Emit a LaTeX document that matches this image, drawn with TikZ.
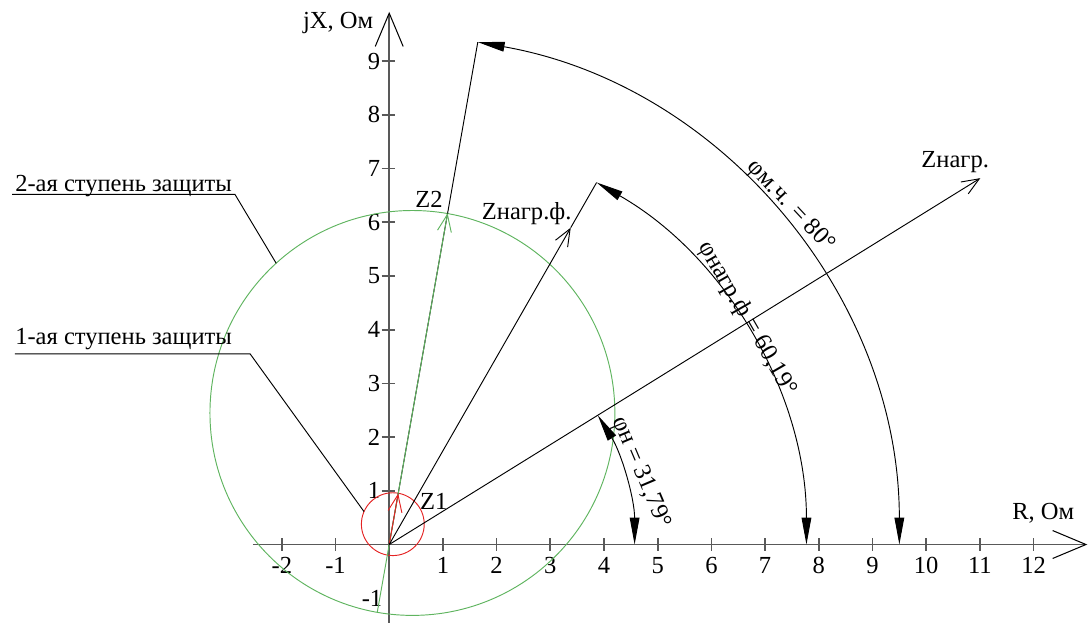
\documentclass[tikz,border=0pt]{standalone}
\usepackage{fontspec}
\setmainfont{Liberation Serif}
\usepackage{tikz}
\usetikzlibrary{arrows.meta,positioning,calc}
\definecolor{zonegreen}{RGB}{95,180,95}
\definecolor{zonered}{RGB}{228,35,35}

\begin{document}
\begin{tikzpicture}[
  font=\fontsize{13}{15.5}\selectfont,
  axis/.style={draw=black!65, line width=0.9pt},
  axarr/.style={axis, -{Straight Barb[length=6.2mm, width=5.2mm, line width=0.55pt, color=black]}},
  thinl/.style={line width=0.5pt},
  vec/.style={thinl, -{Straight Barb[length=3.2mm, width=2.6mm]}},
  ang/.style={thinl, {Triangle[length=5mm, width=1.8mm]}-{Triangle[length=5mm, width=1.8mm]}},
  ticklbl/.style={inner sep=0pt},
  zone/.style={draw=zonegreen, thinl},
  under/.style={text depth=0pt, anchor=south west}]

\useasboundingbox (-7.248,-1.462) rectangle (13.013,10.14);

\coordinate (O) at (0,0);
\coordinate (Rbeg) at (-2.54,0);
\coordinate (Rend) at (13,0);
\coordinate (Xbeg) at (0,-1.46);
\coordinate (Xend) at (0,9.92);

\draw[axarr] (Rbeg) -- (Rend);
\draw[axarr] (Xbeg) -- (Xend);

\foreach \x in {-2,-1,1,2,3,4,5,6,7,8,9,10,11,12} {
  \draw[axis] (\x,-0.12) -- (\x,0.12);
  \node[ticklbl, anchor=north] (xl\x) at (\x,-0.227) {\x};
}
\foreach \y in {1,...,9} {
  \draw[axis] (-0.14,\y) -- (0.11,\y);
  \node[ticklbl, anchor=east] (yl\y) at (-0.16,\y) {\y};
}
\node (ylm1) at (-0.32,-1.01) {-1};

\node (lR) at (12.18,0.58) {R, Ом};
\node (lX) at (-0.95,9.71) {jX, Ом};

\coordinate (g1) at (0.432,2.45);
\coordinate (r1) at (0.067,0.379);
\coordinate (Z1) at (80:0.965);
\coordinate (Z2) at (80:6.265);
\coordinate (Z2low) at (80:-1.28);
\coordinate (Zmch) at (80:9.5);
\coordinate (Zf) at (60.19:6.8);
\coordinate (Zfend) at (60.19:7.77);
\coordinate (Zn) at (31.79:12.95);
\coordinate (phn) at (31.79:4.57);

\draw[zone] (g1) circle[radius=3.77];
\draw[draw=zonered, thinl] (r1) circle[radius=0.585];

\draw[thinl] (O) -- (Zmch);
\draw[vec, zonegreen] (Z2low) -- (Z2);
\draw[vec, zonered] (O) -- (Z1);
\draw[vec] (O) -- (Zf);
\draw[thinl] (Zf) -- (Zfend);
\draw[vec] (O) -- (Zn);

\node (lZ2) at (0.74,6.43) {Z2};
\node (lZ1) at (0.83,0.80) {Z1};
\node (lZf) at (2.56,6.17) {Zнагр.ф.};
\node (lZn) at (10.54,7.12) {Zнагр.};

\draw[ang] (Zmch) arc[start angle=80, end angle=0, radius=9.5];
\draw[ang] (Zfend) arc[start angle=60.19, end angle=0, radius=7.77];
\draw[ang] (phn) arc[start angle=31.79, end angle=0, radius=4.57];

\node[rotate=-47] (aMch) at (40.1:9.77) {φм.ч. = 80°};
\node[rotate=-60] (aF) at (32.2:7.88) {φнагр.ф = 60,19°};
\node[rotate=-67] (aN) at (15.9:4.87) {φн = 31,79°};

\node[under, inner xsep=0.05cm, inner ysep=0.048cm] (st2) at (-7.02,6.52) {2-ая ступень защиты};
\coordinate (st2p) at ($(g1)+(132.3:3.77)$);
\draw[thinl] (st2.south west) -- (st2.south east) -- (st2p);

\node[under, inner xsep=0pt, inner ysep=0.17cm] (st1) at (-6.97,3.55) {1-ая ступень защиты};
\coordinate (st1u) at (-2.59,3.55);
\coordinate (st1p) at ($(r1)+(156.4:0.585)$);
\draw[thinl] (st1.south west) -- (st1u) -- (st1p);
\end{tikzpicture}
\end{document}
